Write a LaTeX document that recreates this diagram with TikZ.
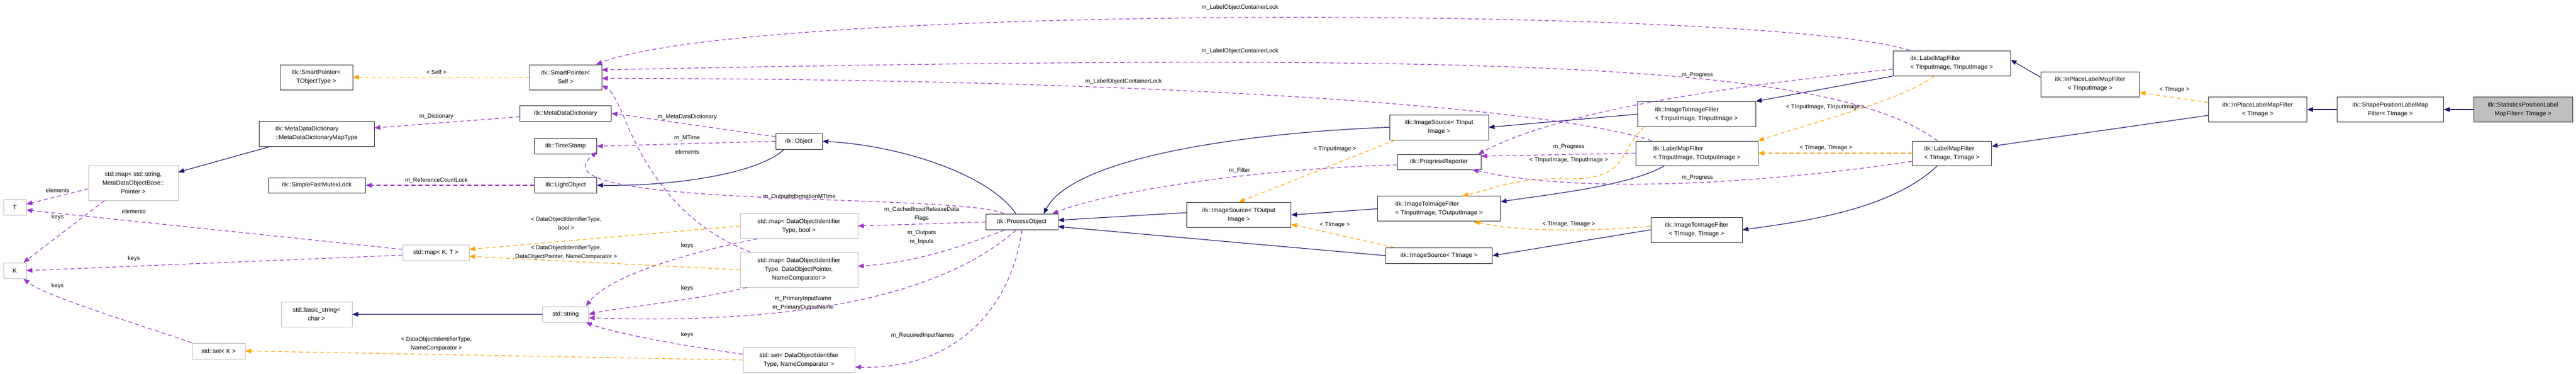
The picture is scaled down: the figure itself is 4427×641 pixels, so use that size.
\documentclass[tikz,border=0pt]{standalone}
\usepackage{fontspec}
\setmainfont{Liberation Sans}
\usetikzlibrary{arrows.meta}
\definecolor{navy}{RGB}{25,25,112}
\definecolor{purp}{RGB}{154,50,205}
\definecolor{orng}{RGB}{255,165,0}
\definecolor{gbord}{RGB}{191,191,191}
\begin{document}
\begin{tikzpicture}[x=1pt,y=-1pt,
  font=\fontsize{10.5}{15}\selectfont,
  box/.style={draw=black!80,line width=1pt,fill=white,inner sep=2pt,align=center},
  gbox/.style={box,draw=gbord},
  lbl/.style={inner sep=0pt,align=center,font=\fontsize{10}{15}\selectfont},
  inh/.style={-{Triangle[length=10pt,width=8pt,fill=navy]},draw=navy,line width=1.1pt},
  use/.style={-{Triangle[length=10pt,width=8pt,fill=purp]},draw=purp,line width=1.1pt,dash pattern=on 7pt off 5pt},
  tpl/.style={-{Triangle[length=10pt,width=8pt,fill=orng]},draw=orng,line width=1.1pt,dash pattern=on 7pt off 5pt}]
\useasboundingbox (0,0) rectangle (4427,641);
% nodes
\node[box,minimum width=125,minimum height=43] (spT) at (543.5,132.5) {itk::SmartPointer\textless\\TObjectType \textgreater};
\node[box,minimum width=198,minimum height=43,align=left] (mapty) at (544,229.5) {itk::MetaDataDictionary\\::MetaDataDictionaryMapType};
\node[gbox,minimum width=154,minimum height=60] (smap) at (229,314) {std::map\textless{} std::string,\\MetaDataObjectBase::\\Pointer \textgreater};
\node[gbox,minimum width=39,minimum height=27] (T) at (25.5,355.5) {T};
\node[gbox,minimum width=39,minimum height=27] (K) at (25.5,464.5) {K};
\node[box,minimum width=167,minimum height=26] (sfml) at (544.5,318) {itk::SimpleFastMutexLock};
\node[gbox,minimum width=122,minimum height=43] (bstr) at (544,539.5) {std::basic\_string\textless\\char \textgreater};
\node[gbox,minimum width=91,minimum height=27] (setK) at (375.5,602.5) {std::set\textless{} K \textgreater};
\node[box,minimum width=124,minimum height=43] (spS) at (972,132.5) {itk::SmartPointer\textless\\Self \textgreater};
\node[box,minimum width=157,minimum height=27] (mdd) at (972,194.5) {itk::MetaDataDictionary};
\node[box,minimum width=107,minimum height=27] (ts) at (972,251) {itk::TimeStamp};
\node[box,minimum width=107,minimum height=27] (lo) at (972,318) {itk::LightObject};
\node[gbox,minimum width=79,minimum height=27] (str) at (972,539.5) {std::string};
\node[gbox,minimum width=114,minimum height=27] (mapKT) at (749,434) {std::map\textless{} K, T \textgreater};
\node[box,minimum width=80,minimum height=27] (obj) at (1373,242.5) {itk::Object};
\node[gbox,minimum width=202,minimum height=43] (mapB) at (1373,388) {std::map\textless{} DataObjectIdentifier\\Type, bool \textgreater};
\node[gbox,minimum width=202,minimum height=60] (mapP) at (1373,463) {std::map\textless{} DataObjectIdentifier\\Type, DataObjectPointer,\\NameComparator \textgreater};
\node[gbox,minimum width=192,minimum height=43] (setD) at (1373,618) {std::set\textless{} DataObjectIdentifier\\Type, NameComparator \textgreater};
\node[box,minimum width=124,minimum height=27] (po) at (1756,381) {itk::ProcessObject};
\node[box,minimum width=179,minimum height=43] (isO) at (2129,369) {itk::ImageSource\textless{} TOutput\\Image \textgreater};
\node[box,minimum width=170,minimum height=43] (isI) at (2473,218.5) {itk::ImageSource\textless{} TInput\\Image \textgreater};
\node[box,minimum width=144,minimum height=26] (pr) at (2473,278) {itk::ProgressReporter};
\node[box,minimum width=211,minimum height=43,align=left] (iiIO) at (2473,358.4) {itk::ImageToImageFilter\\\textless{} TInputImage, TOutputImage \textgreater};
\node[box,minimum width=183,minimum height=27] (isT) at (2473,438.8) {itk::ImageSource\textless{} TImage \textgreater};
\node[box,minimum width=203,minimum height=43,align=left] (iiII) at (2915.5,196) {itk::ImageToImageFilter\\\textless{} TInputImage, TInputImage \textgreater};
\node[box,minimum width=210,minimum height=42,align=left] (lmIO) at (2916,263) {itk::LabelMapFilter\\\textless{} TInputImage, TOutputImage \textgreater};
\node[box,minimum width=157,minimum height=43] (iiTT) at (2915.7,394.5) {itk::ImageToImageFilter\\\textless{} TImage, TImage \textgreater};
\node[box,minimum width=202,minimum height=43,align=left] (lmII) at (3354,108.7) {itk::LabelMapFilter\\\textless{} TInputImage, TInputImage \textgreater};
\node[box,minimum width=136,minimum height=42,align=left] (lmTT) at (3354.5,263) {itk::LabelMapFilter\\\textless{} TImage, TImage \textgreater};
\node[box,minimum width=169,minimum height=43] (ipI) at (3592,144.7) {itk::InPlaceLabelMapFilter\\\textless{} TInputImage \textgreater};
\node[box,minimum width=169,minimum height=43] (ipT) at (3880,188) {itk::InPlaceLabelMapFilter\\\textless{} TImage \textgreater};
\node[box,minimum width=183,minimum height=43] (shp) at (4108,188) {itk::ShapePositionLabelMap\\Filter\textless{} TImage \textgreater};
\node[box,minimum width=170,minimum height=43,fill=black!25] (sta) at (4336,188) {itk::StatisticsPositionLabel\\MapFilter\textless{} TImage \textgreater};
% labels
\node[lbl] (l1) at (99,327) {elements};
\node[lbl] (l2) at (99,373) {keys};
\node[lbl] (l3) at (230,363) {elements};
\node[lbl] (l4) at (230,444) {keys};
\node[lbl] (l5) at (99,491) {keys};
\node[lbl] (l6) at (750,123.5) {\textless{} Self \textgreater};
\node[lbl] (l7) at (750,200) {m\_Dictionary};
\node[lbl] (l8) at (750,310) {m\_ReferenceCountLock};
\node[lbl] (l9) at (1181,201) {m\_MetaDataDictionary};
\node[lbl] (l10) at (1181,237) {m\_MTime};
\node[lbl] (l11) at (1181,261) {elements};
\node[lbl] (l12) at (973,383) {\textless{} DataObjectIdentifierType,\\bool \textgreater};
\node[lbl] (l13) at (973,433.5) {\textless{} DataObjectIdentifierType,\\DataObjectPointer, NameComparator \textgreater};
\node[lbl] (l14) at (1181,422) {keys};
\node[lbl] (l15) at (1181,494.5) {keys};
\node[lbl] (l16) at (1181,575) {keys};
\node[lbl] (l17) at (1380,520) {m\_PrimaryInputName\\m\_PrimaryOutputName};
\node[lbl] (l18) at (750,590) {\textless{} DataObjectIdentifierType,\\NameComparator \textgreater};
\node[lbl] (l19) at (1374,338) {m\_OutputInformationMTime};
\node[lbl] (l20) at (1584,367) {m\_CachedInputReleaseData\\Flags};
\node[lbl] (l21) at (1584,407.6) {m\_Outputs\\m\_Inputs};
\node[lbl] (l22) at (1585.5,575.5) {m\_RequiredInputNames};
\node[lbl] (l23) at (1931,139.6) {m\_LabelObjectContainerLock};
\node[lbl] (l24) at (2131,12.8) {m\_LabelObjectContainerLock};
\node[lbl] (l25) at (2131,88) {m\_LabelObjectContainerLock};
\node[lbl] (l26) at (2130,292.7) {m\_Filter};
\node[lbl] (l27) at (2294,256.5) {\textless{} TInputImage \textgreater};
\node[lbl] (l28) at (2696,252.4) {m\_Progress};
\node[lbl] (l29) at (2696,274.6) {\textless{} TInputImage, TInputImage \textgreater};
\node[lbl] (l30) at (2294,386) {\textless{} TImage \textgreater};
\node[lbl] (l31) at (2696,385) {\textless{} TImage, TImage \textgreater};
\node[lbl] (l32) at (2917,129) {m\_Progress};
\node[lbl] (l33) at (3137,184) {\textless{} TInputImage, TInputImage \textgreater};
\node[lbl] (l34) at (3138,254.4) {\textless{} TImage, TImage \textgreater};
\node[lbl] (l35) at (2917,305) {m\_Progress};
\node[lbl] (l36) at (3737,153.6) {\textless{} TImage \textgreater};
\coordinate (spR) at (1034,120);
% inheritance
\draw[inh] ([shift={(20,0)}]mapty.south west) -- ([shift={(0,12)}]smap.north east);
\draw[inh] (str.west) -- (bstr.east);
\draw[inh] ([shift={(15,0)}]obj.south west) .. controls (1300,300) and (1150,320) .. (lo.east);
\draw[inh] ([shift={(-10,0)}]po.north) .. controls (1700,300) and (1550,250) .. (obj.east);
\draw[inh] (isI.west) .. controls (2200,225) and (1850,260) .. ([shift={(-25,0)}]po.north east);
\draw[inh] ([shift={(0,-4)}]isO.west) -- ([shift={(0,-3)}]po.east);
\draw[inh] (isT.west) -- ([shift={(0,-6)}]po.south east);
\draw[inh] (iiIO.west) -- (isO.east);
\draw[inh] (iiII.west) -- (isI.east);
\draw[inh] (iiTT.west) -- (isT.east);
\draw[inh] ([shift={(50,0)}]lmIO.south west) .. controls (2800,320) and (2650,335) .. ([shift={(0,10)}]iiIO.north east);
\draw[inh] (lmII.south west) -- (iiII.north east);
\draw[inh] ([shift={(-25,0)}]lmTT.south) .. controls (3250,360) and (3100,380) .. (iiTT.east);
\draw[inh] ([shift={(0,-12)}]ipI.west) -- ([shift={(0,-6)}]lmII.east);
\draw[inh] ([shift={(0,10)}]ipT.west) -- ([shift={(0,-12)}]lmTT.east);
\draw[inh] (shp.west) -- (ipT.east);
\draw[inh] (sta.west) -- (shp.east);
% templates
\draw[tpl] (spS.west) -- (spT.east);
\draw[tpl] (mapB.west) -- ([shift={(0,-6)}]mapKT.east);
\draw[tpl] (mapP.west) -- ([shift={(0,6)}]mapKT.east);
\draw[tpl] (setD.west) -- (setK.east);
\draw[tpl] ([shift={(10,0)}]isI.south west) -- (isO.north);
\draw[tpl] ([shift={(15,0)}]isT.north west) -- ([shift={(0,-6)}]isO.south east);
\draw[tpl] ([shift={(12,0)}]iiII.south west) .. controls (2780,260) and (2800,310) .. (2690,307) .. controls (2610,305) and (2580,320) .. ([shift={(40,0)}]iiIO.north);
\draw[tpl] ([shift={(0,-6)}]iiTT.west) .. controls (2700,400) and (2600,395) .. ([shift={(60,0)}]iiIO.south);
\draw[tpl] ([shift={(-30,0)}]lmII.south) .. controls (3270,170) and (3150,200) .. (lmIO.north east);
\draw[tpl] (lmTT.west) -- (lmIO.east);
\draw[tpl] ([shift={(0,10)}]ipT.north west) -- ([shift={(0,-8)}]ipI.south east);
% usage
\draw[use] ([shift={(0,10)}]smap.west) -- ([shift={(0,-5)}]T.east);
\draw[use] ([shift={(28,0)}]smap.south west) -- ([shift={(-5,0)}]K.north east);
\draw[use] ([shift={(0,-6)}]mapKT.west) -- ([shift={(0,5)}]T.east);
\draw[use] ([shift={(0,4)}]mapKT.west) -- (K.east);
\draw[use] (setK.north west) .. controls (250,560) and (80,510) .. ([shift={(-5,0)}]K.south east);
\draw[use] ([shift={(0,6)}]mdd.west) -- ([shift={(0,-10)}]mapty.east);
\draw[use] (lo.west) -- (sfml.east);
\draw[use] ([shift={(0,-8)}]obj.west) -- (mdd.east);
\draw[use] (obj.west) -- (ts.east);
\draw[use] ([shift={(18,0)}]mapP.north west) .. controls (1150,380) and (1100,260) .. (1080,220) .. controls (1060,170) and (1050,155) .. ([shift={(0,-8)}]spS.south east);
\draw[use] ([shift={(-30,0)}]po.north) .. controls (1650,330) and (900,360) .. ([shift={(0,-4)}]ts.south east);
\draw[use] (po.west) -- (mapB.east);
\draw[use] ([shift={(-30,0)}]po.south) .. controls (1660,420) and (1580,450) .. ([shift={(0,-6)}]mapP.east);
\draw[use] ([shift={(-10,0)}]po.south) .. controls (1650,480) and (1450,560) .. ([shift={(0,6)}]str.east);
\draw[use] ([shift={(30,0)}]mapB.south west) .. controls (1200,430) and (1050,470) .. ([shift={(-5,0)}]str.north east);
\draw[use] ([shift={(12,0)}]mapP.south west) .. controls (1200,515) and (1050,530) .. (str.east);
\draw[use] ([shift={(0,12)}]setD.north west) .. controls (1150,590) and (1050,570) .. ([shift={(-5,0)}]str.south east);
\draw[use] (po.south) .. controls (1740,520) and (1650,635) .. ([shift={(0,12)}]setD.east);
\draw[use] ([shift={(0,5)}]pr.west) .. controls (2150,290) and (1900,330) .. ([shift={(-10,0)}]po.north east);
\draw[use] (lmIO.west) -- ([shift={(0,-10)}]pr.east);
\draw[use] ([shift={(0,10)}]lmII.west) .. controls (3050,140) and (2700,180) .. ([shift={(-5,0)}]pr.north east);
\draw[use] ([shift={(0,14)}]lmTT.west) .. controls (3100,305) and (2750,340) .. ([shift={(-15,0)}]pr.south east);
\draw[use] ([shift={(30,0)}]lmII.north west) .. controls (3050,10) and (1300,5) .. ([shift={(-10,0)}]spS.north east);
\draw[use] ([shift={(-25,0)}]lmTT.north) .. controls (3150,110) and (2600,88) .. (spR);
\draw[use] ([shift={(28,0)}]lmIO.north west) .. controls (2650,180) and (1950,135) .. ([shift={(0,2)}]spS.east);
\end{tikzpicture}
\end{document}
